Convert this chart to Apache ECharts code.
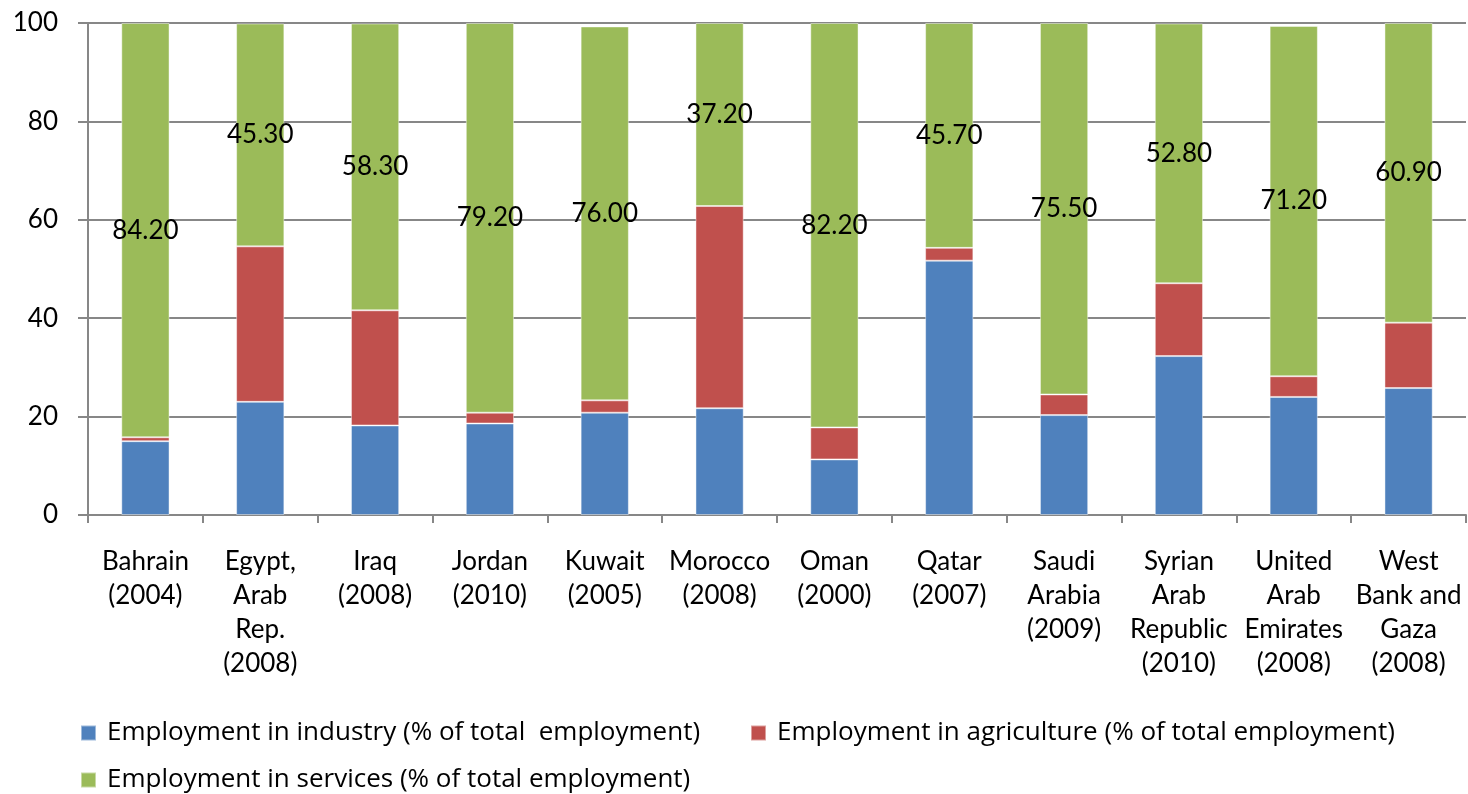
<!DOCTYPE html>
<html>
<head>
<meta charset="utf-8">
<script src="https://cdn.jsdelivr.net/npm/echarts@6/dist/echarts.min.js"></script>
<style>
  html, body { margin: 0; padding: 0; background: #fff; }
  #chart { width: 1468px; height: 794px; }
</style>
</head>
<body>
<div id="chart"></div>
<script>
// Employment by sector, share of total employment (%)
const categories = [
  'Bahrain\n(2004)',
  'Egypt,\nArab\nRep.\n(2008)',
  'Iraq\n(2008)',
  'Jordan\n(2010)',
  'Kuwait\n(2005)',
  'Morocco\n(2008)',
  'Oman\n(2000)',
  'Qatar\n(2007)',
  'Saudi\nArabia\n(2009)',
  'Syrian\nArab\nRepublic\n(2010)',
  'United\nArab\nEmirates\n(2008)',
  'West\nBank and\nGaza\n(2008)'
];
const industry    = [15.0, 23.0, 18.2, 18.6, 20.8, 21.7, 11.3, 51.7, 20.3, 32.3, 24.0, 25.8];
const agriculture = [0.8, 31.6, 23.4, 2.2, 2.5, 41.1, 6.5, 2.6, 4.2, 14.8, 4.2, 13.3];
const services    = [84.2, 45.3, 58.3, 79.2, 76.0, 37.2, 82.2, 45.7, 75.5, 52.8, 71.2, 60.9];
const seriesNames = [
  'Employment in industry (% of total  employment)',
  'Employment in agriculture (% of total employment)',
  'Employment in services (% of total employment)'
];
const yTicks = { min: 0, max: 100, interval: 20 };

const FONT = 'Lato';
const LEGEND_FONT = 'Open Sans';
const AXIS_GREY = '#878787';
const colors = ['#4F81BD', '#C0504D', '#9BBB59'];

const chart = echarts.init(document.getElementById('chart'), null, { renderer: 'canvas' });

function legendFor(name, left, top) {
  return {
    data: [name],
    left: left,
    top: top,
    padding: 0,
    itemWidth: 15,
    itemHeight: 15,
    itemGap: 0,
    icon: 'rect',
    selectedMode: false,
    textStyle: { fontFamily: LEGEND_FONT, fontSize: 26, color: '#000', padding: [0, 0, 0, 6] }
  };
}

const barSeries = [industry, agriculture, services].map((vals, i) => ({
  name: seriesNames[i],
  type: 'bar',
  stack: 'total',
  barWidth: '42%',
  data: vals,
  itemStyle: {
    color: colors[i],
    borderColor: 'rgba(255,255,255,0.45)',
    borderWidth: 1
  },
  label: i === 2 ? {
    show: true,
    position: 'inside',
    fontFamily: FONT,
    fontSize: 26,
    color: '#000',
    formatter: p => p.value.toFixed(2)
  } : { show: false },
  emphasis: { disabled: true }
}));

chart.setOption({
  backgroundColor: '#fff',
  animation: false,
  color: colors,
  grid: { left: 88, right: 2, top: 23, bottom: 279, containLabel: false },
  legend: [
    legendFor(seriesNames[0], 80, 720),
    legendFor(seriesNames[1], 750, 720),
    legendFor(seriesNames[2], 80, 767)
  ],
  xAxis: {
    type: 'category',
    data: categories,
    axisLine: { show: true, lineStyle: { color: AXIS_GREY, width: 2 } },
    axisTick: { show: true, length: 8, alignWithLabel: false, interval: 0, lineStyle: { color: AXIS_GREY, width: 2 } },
    axisLabel: {
      interval: 0,
      margin: 30,
      fontFamily: FONT,
      fontSize: 26,
      lineHeight: 34,
      color: '#000',
      align: 'center'
    }
  },
  yAxis: {
    type: 'value',
    min: yTicks.min,
    max: yTicks.max,
    interval: yTicks.interval,
    axisLine: { show: true, lineStyle: { color: AXIS_GREY, width: 2 } },
    axisTick: { show: true, length: 10, lineStyle: { color: AXIS_GREY, width: 2 } },
    splitLine: { show: true, lineStyle: { color: AXIS_GREY, width: 2 } },
    axisLabel: { margin: 30, fontFamily: FONT, fontSize: 26, color: '#000' }
  },
  series: barSeries
});
</script>
</body>
</html>
